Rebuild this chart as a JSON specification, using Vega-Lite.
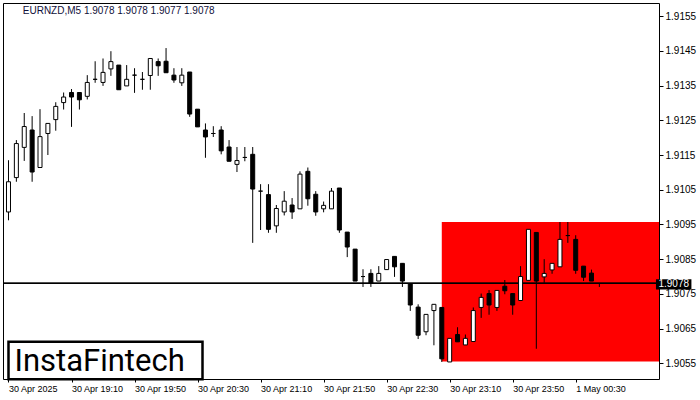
{
  "$schema": "https://vega.github.io/schema/vega-lite/v6.json",
  "width": 656,
  "height": 376,
  "autosize": {"type": "none"},
  "padding": {"left": 3, "top": 3, "right": 41, "bottom": 21},
  "background": "white",
  "config": {
    "view": {"stroke": "black", "strokeWidth": 1},
    "axis": {"grid": false, "domain": false, "tickColor": "black", "labelColor": "black", "labelFont": "Liberation Sans", "labelOverlap": false, "labelFlush": false, "labelBound": false}
  },
  "data": {"values": [
    {"t":"2025-04-30T18:30:00Z","o":1.90986,"h":1.91135,"l":1.90962,"c":1.91073},
    {"t":"2025-04-30T18:35:00Z","o":1.91085,"h":1.91193,"l":1.91073,"c":1.91183},
    {"t":"2025-04-30T18:40:00Z","o":1.91172,"h":1.91271,"l":1.91133,"c":1.91232},
    {"t":"2025-04-30T18:45:00Z","o":1.91222,"h":1.91262,"l":1.91073,"c":1.91101},
    {"t":"2025-04-30T18:50:00Z","o":1.91114,"h":1.91282,"l":1.91114,"c":1.91203},
    {"t":"2025-04-30T18:55:00Z","o":1.91212,"h":1.91241,"l":1.91150,"c":1.91241},
    {"t":"2025-04-30T19:00:00Z","o":1.91252,"h":1.91302,"l":1.91220,"c":1.91290},
    {"t":"2025-04-30T19:05:00Z","o":1.91301,"h":1.91330,"l":1.91281,"c":1.91317},
    {"t":"2025-04-30T19:10:00Z","o":1.91330,"h":1.91340,"l":1.91231,"c":1.91317},
    {"t":"2025-04-30T19:15:00Z","o":1.91330,"h":1.91330,"l":1.91281,"c":1.91309},
    {"t":"2025-04-30T19:20:00Z","o":1.91319,"h":1.91380,"l":1.91310,"c":1.91359},
    {"t":"2025-04-30T19:25:00Z","o":1.91368,"h":1.91420,"l":1.91358,"c":1.91368},
    {"t":"2025-04-30T19:30:00Z","o":1.91359,"h":1.91428,"l":1.91349,"c":1.91388},
    {"t":"2025-04-30T19:35:00Z","o":1.91398,"h":1.91449,"l":1.91378,"c":1.91419},
    {"t":"2025-04-30T19:40:00Z","o":1.91409,"h":1.91409,"l":1.91338,"c":1.91338},
    {"t":"2025-04-30T19:45:00Z","o":1.91349,"h":1.91409,"l":1.91349,"c":1.91368},
    {"t":"2025-04-30T19:50:00Z","o":1.91380,"h":1.91400,"l":1.91329,"c":1.91380},
    {"t":"2025-04-30T19:55:00Z","o":1.91368,"h":1.91389,"l":1.91338,"c":1.91368},
    {"t":"2025-04-30T20:00:00Z","o":1.91379,"h":1.91428,"l":1.91338,"c":1.91428},
    {"t":"2025-04-30T20:05:00Z","o":1.91419,"h":1.91428,"l":1.91378,"c":1.91407},
    {"t":"2025-04-30T20:10:00Z","o":1.91420,"h":1.91458,"l":1.91387,"c":1.91387},
    {"t":"2025-04-30T20:15:00Z","o":1.91380,"h":1.91400,"l":1.91358,"c":1.91366},
    {"t":"2025-04-30T20:20:00Z","o":1.91358,"h":1.91400,"l":1.91349,"c":1.91380},
    {"t":"2025-04-30T20:25:00Z","o":1.91389,"h":1.91389,"l":1.91260,"c":1.91268},
    {"t":"2025-04-30T20:30:00Z","o":1.91282,"h":1.91282,"l":1.91231,"c":1.91231},
    {"t":"2025-04-30T20:35:00Z","o":1.91222,"h":1.91241,"l":1.91142,"c":1.91202},
    {"t":"2025-04-30T20:40:00Z","o":1.91212,"h":1.91233,"l":1.91202,"c":1.91212},
    {"t":"2025-04-30T20:45:00Z","o":1.91222,"h":1.91233,"l":1.91152,"c":1.91162},
    {"t":"2025-04-30T20:50:00Z","o":1.91173,"h":1.91193,"l":1.91132,"c":1.91132},
    {"t":"2025-04-30T20:55:00Z","o":1.91123,"h":1.91173,"l":1.91101,"c":1.91134},
    {"t":"2025-04-30T21:00:00Z","o":1.91143,"h":1.91173,"l":1.91132,"c":1.91143},
    {"t":"2025-04-30T21:05:00Z","o":1.91152,"h":1.91173,"l":1.90897,"c":1.91052},
    {"t":"2025-04-30T21:10:00Z","o":1.91046,"h":1.91066,"l":1.90934,"c":1.91046},
    {"t":"2025-04-30T21:15:00Z","o":1.91036,"h":1.91066,"l":1.90926,"c":1.90936},
    {"t":"2025-04-30T21:20:00Z","o":1.90946,"h":1.91006,"l":1.90926,"c":1.90996},
    {"t":"2025-04-30T21:25:00Z","o":1.90986,"h":1.91046,"l":1.90976,"c":1.91017},
    {"t":"2025-04-30T21:30:00Z","o":1.91006,"h":1.91026,"l":1.90966,"c":1.90986},
    {"t":"2025-04-30T21:35:00Z","o":1.90995,"h":1.91103,"l":1.90995,"c":1.91095},
    {"t":"2025-04-30T21:40:00Z","o":1.91103,"h":1.91114,"l":1.91004,"c":1.91024},
    {"t":"2025-04-30T21:45:00Z","o":1.91037,"h":1.91046,"l":1.90975,"c":1.90986},
    {"t":"2025-04-30T21:50:00Z","o":1.90995,"h":1.91016,"l":1.90985,"c":1.91005},
    {"t":"2025-04-30T21:55:00Z","o":1.90995,"h":1.91055,"l":1.90995,"c":1.91046},
    {"t":"2025-04-30T22:00:00Z","o":1.91055,"h":1.91055,"l":1.90926,"c":1.90934},
    {"t":"2025-04-30T22:05:00Z","o":1.90928,"h":1.90928,"l":1.90856,"c":1.90885},
    {"t":"2025-04-30T22:10:00Z","o":1.90879,"h":1.90879,"l":1.90787,"c":1.90787},
    {"t":"2025-04-30T22:15:00Z","o":1.90800,"h":1.90821,"l":1.90770,"c":1.90800},
    {"t":"2025-04-30T22:20:00Z","o":1.90809,"h":1.90821,"l":1.90770,"c":1.90780},
    {"t":"2025-04-30T22:25:00Z","o":1.90787,"h":1.90830,"l":1.90787,"c":1.90809},
    {"t":"2025-04-30T22:30:00Z","o":1.90820,"h":1.90849,"l":1.90820,"c":1.90849},
    {"t":"2025-04-30T22:35:00Z","o":1.90858,"h":1.90858,"l":1.90799,"c":1.90828},
    {"t":"2025-04-30T22:40:00Z","o":1.90838,"h":1.90838,"l":1.90770,"c":1.90787},
    {"t":"2025-04-30T22:45:00Z","o":1.90780,"h":1.90780,"l":1.90701,"c":1.90718},
    {"t":"2025-04-30T22:50:00Z","o":1.90712,"h":1.90720,"l":1.90620,"c":1.90631},
    {"t":"2025-04-30T22:55:00Z","o":1.90641,"h":1.90691,"l":1.90631,"c":1.90691},
    {"t":"2025-04-30T23:00:00Z","o":1.90702,"h":1.90720,"l":1.90602,"c":1.90720},
    {"t":"2025-04-30T23:05:00Z","o":1.90711,"h":1.90711,"l":1.90554,"c":1.90563},
    {"t":"2025-04-30T23:10:00Z","o":1.90554,"h":1.90622,"l":1.90554,"c":1.90622},
    {"t":"2025-04-30T23:15:00Z","o":1.90633,"h":1.90654,"l":1.90612,"c":1.90612},
    {"t":"2025-04-30T23:20:00Z","o":1.90603,"h":1.90633,"l":1.90603,"c":1.90622},
    {"t":"2025-04-30T23:25:00Z","o":1.90613,"h":1.90711,"l":1.90613,"c":1.90702},
    {"t":"2025-04-30T23:30:00Z","o":1.90711,"h":1.90751,"l":1.90681,"c":1.90740},
    {"t":"2025-04-30T23:35:00Z","o":1.90751,"h":1.90761,"l":1.90690,"c":1.90718},
    {"t":"2025-04-30T23:40:00Z","o":1.90711,"h":1.90760,"l":1.90701,"c":1.90760},
    {"t":"2025-04-30T23:45:00Z","o":1.90772,"h":1.90790,"l":1.90749,"c":1.90759},
    {"t":"2025-04-30T23:50:00Z","o":1.90751,"h":1.90751,"l":1.90690,"c":1.90718},
    {"t":"2025-04-30T23:55:00Z","o":1.90731,"h":1.90830,"l":1.90731,"c":1.90800},
    {"t":"2025-05-01T00:00:00Z","o":1.90789,"h":1.90936,"l":1.90789,"c":1.90936},
    {"t":"2025-05-01T00:05:00Z","o":1.90927,"h":1.90927,"l":1.90592,"c":1.90787},
    {"t":"2025-05-01T00:10:00Z","o":1.90799,"h":1.90850,"l":1.90782,"c":1.90809},
    {"t":"2025-05-01T00:15:00Z","o":1.90819,"h":1.90838,"l":1.90808,"c":1.90838},
    {"t":"2025-05-01T00:20:00Z","o":1.90828,"h":1.90957,"l":1.90828,"c":1.90907},
    {"t":"2025-05-01T00:25:00Z","o":1.90918,"h":1.90957,"l":1.90897,"c":1.90918},
    {"t":"2025-05-01T00:30:00Z","o":1.90907,"h":1.90919,"l":1.90808,"c":1.90818},
    {"t":"2025-05-01T00:35:00Z","o":1.90830,"h":1.90830,"l":1.90787,"c":1.90798},
    {"t":"2025-05-01T00:40:00Z","o":1.90810,"h":1.90820,"l":1.90787,"c":1.90787},
    {"t":"2025-05-01T00:45:00Z","o":1.90780,"h":1.90780,"l":1.90770,"c":1.90780}
  ]},
  "layer": [
    {
      "data": {"values": [{"x1": "2025-04-30T23:05:00Z", "x2": "2025-05-01T02:00:00Z", "y1": 1.90555, "y2": 1.90957}]},
      "mark": {"type": "rect", "color": "#ff0000", "clip": true},
      "encoding": {
        "x": {"field": "x1", "type": "temporal", "title": null},
        "x2": {"field": "x2"},
        "y": {"field": "y1", "type": "quantitative", "title": null},
        "y2": {"field": "y2"}
      }
    },
    {
      "mark": {"type": "rule", "color": "black", "strokeWidth": 1},
      "encoding": {"y": {"datum": 1.9078, "type": "quantitative", "title": null}}
    },
    {
      "mark": {"type": "rule", "color": "black", "strokeWidth": 1, "clip": true},
      "encoding": {
        "x": {
          "field": "t", "type": "temporal", "title": null,
          "scale": {"type": "utc", "domain": [
            {"year": 2025, "month": 4, "date": 30, "hours": 18, "minutes": 29, "seconds": 41, "milliseconds": 250, "utc": true},
            {"year": 2025, "month": 5, "date": 1, "hours": 1, "minutes": 19, "seconds": 41, "milliseconds": 250, "utc": true}
          ]},
          "axis": {
            "values": [
              {"year": 2025, "month": 4, "date": 30, "hours": 18, "minutes": 30, "utc": true},
              {"year": 2025, "month": 4, "date": 30, "hours": 19, "minutes": 10, "utc": true},
              {"year": 2025, "month": 4, "date": 30, "hours": 19, "minutes": 50, "utc": true},
              {"year": 2025, "month": 4, "date": 30, "hours": 20, "minutes": 30, "utc": true},
              {"year": 2025, "month": 4, "date": 30, "hours": 21, "minutes": 10, "utc": true},
              {"year": 2025, "month": 4, "date": 30, "hours": 21, "minutes": 50, "utc": true},
              {"year": 2025, "month": 4, "date": 30, "hours": 22, "minutes": 30, "utc": true},
              {"year": 2025, "month": 4, "date": 30, "hours": 23, "minutes": 10, "utc": true},
              {"year": 2025, "month": 4, "date": 30, "hours": 23, "minutes": 50, "utc": true},
              {"year": 2025, "month": 5, "date": 1, "hours": 0, "minutes": 30, "utc": true}
            ],
            "tickCount": 20,
            "labelExpr": "utcFormat(datum.value, '%H:%M') == '18:30' ? '30 Apr 2025' : utcFormat(datum.value, '%-d %b %H:%M')",
            "labelAlign": "left", "labelBaseline": "top", "labelPadding": 2, "tickSize": 3,
            "labelFontSize": 9, "labelFlush": false, "labelOverlap": false, "labelBound": false
          }
        },
        "y": {
          "field": "l", "type": "quantitative", "title": null,
          "scale": {"domain": [1.9050492, 1.915878], "zero": false, "nice": false},
          "axis": {
            "orient": "right",
            "values": [1.9055, 1.9065, 1.9075, 1.9085, 1.9095, 1.9105, 1.9115, 1.9125, 1.9135, 1.9145, 1.9155],
            "tickCount": 20,
            "format": ".4f", "tickSize": 4, "labelPadding": 2, "labelFontSize": 10,
            "labelFlush": false, "labelOverlap": false, "labelBound": false
          }
        },
        "y2": {"field": "h"}
      }
    },
    {
      "mark": {"type": "bar", "width": 4, "stroke": "black", "strokeWidth": 1, "clip": true},
      "encoding": {
        "x": {"field": "t", "type": "temporal", "title": null},
        "y": {"field": "o", "type": "quantitative", "title": null},
        "y2": {"field": "c"},
        "fill": {"condition": {"test": "datum.c >= datum.o", "value": "white"}, "value": "black"}
      }
    },
    {
      "data": {"values": [{"x1": "2025-04-30T18:30:00Z", "x2": "2025-04-30T20:33:08Z", "y1": 1.90504, "y2": 1.90612}]},
      "mark": {"type": "rect", "fill": "white", "stroke": "black", "strokeWidth": 2.5, "clip": false},
      "encoding": {
        "x": {"field": "x1", "type": "temporal", "title": null},
        "x2": {"field": "x2"},
        "y": {"field": "y1", "type": "quantitative", "title": null},
        "y2": {"field": "y2"}
      }
    },
    {
      "data": {"values": [{"tx": "2025-04-30T19:27:49Z", "ty": 1.90527, "label": "InstaFintech"}]},
      "mark": {"type": "text", "font": "Roboto", "fontSize": 31, "align": "center", "baseline": "alphabetic", "color": "black", "clip": false},
      "encoding": {
        "x": {"field": "tx", "type": "temporal", "title": null},
        "y": {"field": "ty", "type": "quantitative", "title": null},
        "text": {"field": "label"}
      }
    },
    {
      "data": {"values": [{"tx": "2025-04-30T18:39:04Z", "ty": 1.91564, "label": "EURNZD,M5  1.9078 1.9078 1.9077 1.9078"}]},
      "mark": {"type": "text", "font": "Liberation Sans", "fontSize": 10, "align": "left", "baseline": "middle", "color": "#10103a", "clip": false},
      "encoding": {
        "x": {"field": "tx", "type": "temporal", "title": null},
        "y": {"field": "ty", "type": "quantitative", "title": null},
        "text": {"field": "label"}
      }
    },
    {
      "data": {"values": [{"x1": "2025-05-01T01:20:56Z", "x2": "2025-05-01T01:43:26Z", "y1": 1.90763, "y2": 1.90792}]},
      "mark": {"type": "rect", "color": "black", "clip": false},
      "encoding": {
        "x": {"field": "x1", "type": "temporal", "title": null},
        "x2": {"field": "x2"},
        "y": {"field": "y1", "type": "quantitative", "title": null},
        "y2": {"field": "y2"}
      }
    },
    {
      "data": {"values": [{"tx": "2025-05-01T01:22:30Z", "ty": 1.90778, "label": "1.9078"}]},
      "mark": {"type": "text", "font": "Liberation Sans", "fontSize": 10, "align": "left", "baseline": "middle", "color": "white", "clip": false},
      "encoding": {
        "x": {"field": "tx", "type": "temporal", "title": null},
        "y": {"field": "ty", "type": "quantitative", "title": null},
        "text": {"field": "label"}
      }
    }
  ]
}
